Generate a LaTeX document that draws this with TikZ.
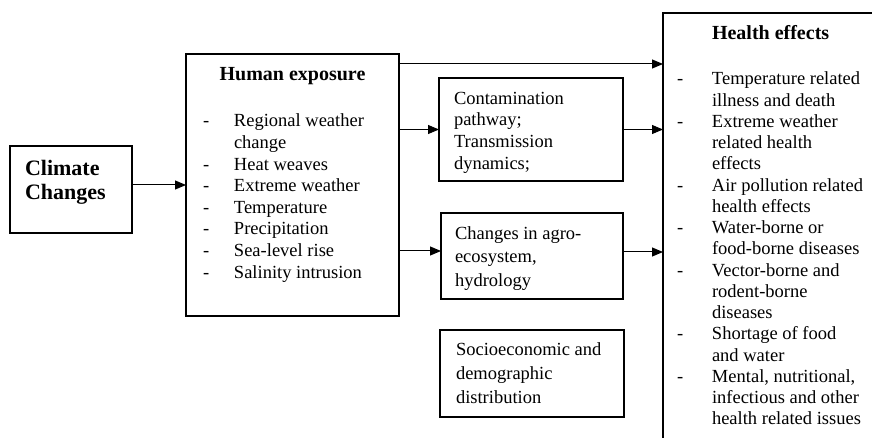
\documentclass[tikz,border=0pt]{standalone}
\usepackage{fontspec}
\setmainfont{Liberation Serif}
\usetikzlibrary{arrows.meta}
\begin{document}
\begin{tikzpicture}[x=1pt,y=-1pt,
  box/.style={draw, line width=1.1pt, rectangle, inner sep=0pt, outer sep=0pt, anchor=north west},
  arr/.style={line width=1pt, -{Triangle[length=11pt,width=9pt]}},
  txt/.style={inner sep=0pt, outer sep=0pt, anchor=base west},
  bodyfont/.style={font=\fontsize{18.5}{21.66}\selectfont},
  headfont/.style={font=\bfseries\fontsize{20}{24}\selectfont}
]
\useasboundingbox (0,0) rectangle (872,438);
\clip (0,0) rectangle (872,438);

% frames
\node[box, minimum width=122pt, minimum height=87pt] (cc) at (10,146) {};
\node[box, minimum width=213pt, minimum height=262pt] (he) at (186,54) {};
\node[box, minimum width=184pt, minimum height=103pt] (cp) at (439,78) {};
\node[box, minimum width=182pt, minimum height=86pt] (ag) at (441,213) {};
\node[box, minimum width=184pt, minimum height=87pt] (se) at (440,330) {};
\node[box, minimum width=260pt, minimum height=460pt] (hf) at (663,13) {};

% Climate Changes
\node[txt, font=\bfseries\fontsize{22}{23.5}\selectfont] (cct) at (25,176)
  {\begin{tabular}[t]{@{}l@{}}Climate\\Changes\end{tabular}};

% Human exposure
\node[inner sep=0pt, anchor=base, headfont] (heh) at (292.5,81) {Human exposure};
\node[txt, bodyfont] (hel) at (203,126.7)
  {\begin{tabular}[t]{@{}p{31pt}@{}l@{}}
   -& Regional weather\\
    & change\\
   -& Heat weaves\\
   -& Extreme weather\\
   -& Temperature\\
   -& Precipitation\\
   -& Sea-level rise\\
   -& Salinity intrusion
   \end{tabular}};

% middle boxes
\node[txt, bodyfont] (cpt) at (454,104.3)
  {\begin{tabular}[t]{@{}l@{}}Contamination\\pathway;\\Transmission\\dynamics;\end{tabular}};
\node[txt, font=\fontsize{18.5}{23.5}\selectfont] (agt) at (455,239.3)
  {\begin{tabular}[t]{@{}l@{}}Changes in agro-\\ecosystem,\\hydrology\end{tabular}};
\node[txt, font=\fontsize{18.5}{23.7}\selectfont] (set) at (456,355.7)
  {\begin{tabular}[t]{@{}l@{}}Socioeconomic and\\demographic\\distribution\end{tabular}};

% Health effects
\node[txt, headfont] (hfh) at (712,40) {Health effects};
\node[txt, font=\fontsize{18.5}{21.25}\selectfont] (hfl) at (677,85)
  {\begin{tabular}[t]{@{}p{35pt}@{}l@{}}
   -& Temperature related\\
    & illness and death\\
   -& Extreme weather\\
    & related health\\
    & effects\\
   -& Air pollution related\\
    & health effects\\
   -& Water-borne or\\
    & food-borne diseases\\
   -& Vector-borne and\\
    & rodent-borne\\
    & diseases\\
   -& Shortage of food\\
    & and water\\
   -& Mental, nutritional,\\
    & infectious and other\\
    & health related issues
   \end{tabular}};

% connectors
\coordinate (top) at ([yshift=-10pt]he.north east);
\coordinate (agin) at ([yshift=5pt]ag.west);
\coordinate (agout) at ([yshift=4pt]ag.east);
\draw[arr] (cc.east |- he.west) -- (he.west);
\draw[arr] (top) -- (top -| hf.west);
\draw[arr] (he.east |- cp.west) -- (cp.west);
\draw[arr] (cp.east) -- (cp.east -| hf.west);
\draw[arr] (he.east |- agin) -- (agin);
\draw[arr] (agout) -- (agout -| hf.west);
\end{tikzpicture}
\end{document}
